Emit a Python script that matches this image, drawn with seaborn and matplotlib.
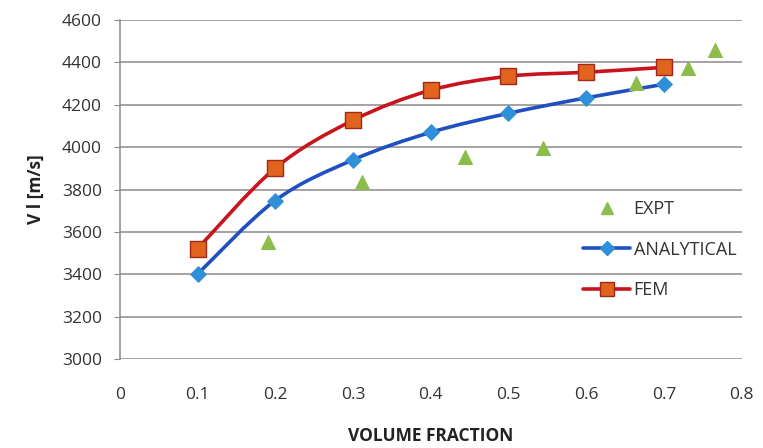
import numpy as np
import pandas as pd
import matplotlib
matplotlib.use("Agg")
import matplotlib.pyplot as plt
import seaborn as sns
from matplotlib.path import Path
from matplotlib.patches import PathPatch
from matplotlib.lines import Line2D

# data
vf = [0.1, 0.2, 0.3, 0.4, 0.5, 0.6, 0.7]
analytical = [3400, 3748, 3940, 4070, 4160, 4233, 4297]
fem = [3520, 3901, 4127, 4269, 4335, 4354, 4377]
expt_vf = [0.191, 0.312, 0.444, 0.544, 0.664, 0.731, 0.766]
expt = [3552, 3834, 3953, 3995, 4302, 4373, 4458]

yticks = [3000, 3200, 3400, 3600, 3800, 4000, 4200, 4400, 4600]
xticks = [0, 0.1, 0.2, 0.3, 0.4, 0.5, 0.6, 0.7, 0.8]

sns.set_style("white")
plt.rcParams['font.family'] = ['Open Sans', 'DejaVu Sans']

BLUE_LINE = '#1f4fc0'
BLUE_MARK = '#2f8fd8'
RED_LINE = '#c8141c'
RED_MARK = '#e0641e'
RED_EDGE = '#a0281a'
GREEN = '#8cbc4c'
GRID = '#8a8a8a'


def smooth_path(x, y):
    # excel style smoothed line: bezier through the data points
    x = np.asarray(x, float)
    y = np.asarray(y, float)
    px = np.concatenate([[x[0]], x, [x[-1]]])
    py = np.concatenate([[y[0]], y, [y[-1]]])
    verts = [(x[0], y[0])]
    codes = [Path.MOVETO]
    for i in range(1, len(px) - 2):
        c1 = (px[i] + (px[i + 1] - px[i - 1]) / 6, py[i] + (py[i + 1] - py[i - 1]) / 6)
        c2 = (px[i + 1] - (px[i + 2] - px[i]) / 6, py[i + 1] - (py[i + 2] - py[i]) / 6)
        verts += [c1, c2, (px[i + 1], py[i + 1])]
        codes += [Path.CURVE4] * 3
    return Path(verts, codes)


fig = plt.figure(figsize=(7.63, 4.48), dpi=100)
ax = fig.add_axes([0.157, 0.199, 0.815, 0.756])

ax.add_patch(PathPatch(smooth_path(vf, analytical), fill=False, edgecolor=BLUE_LINE, lw=2.6, zorder=3))
ax.add_patch(PathPatch(smooth_path(vf, fem), fill=False, edgecolor=RED_LINE, lw=2.6, zorder=3))

df_a = pd.DataFrame({'vf': vf, 'v': analytical})
df_f = pd.DataFrame({'vf': vf, 'v': fem})
df_e = pd.DataFrame({'vf': expt_vf, 'v': expt})

sns.scatterplot(data=df_e, x='vf', y='v', marker='^', s=100, color=GREEN, edgecolor=GREEN, ax=ax, zorder=4)
sns.scatterplot(data=df_a, x='vf', y='v', marker='D', s=65, color=BLUE_MARK, edgecolor=BLUE_MARK, ax=ax, zorder=5)
sns.scatterplot(data=df_f, x='vf', y='v', marker='s', s=130, color=RED_MARK, edgecolor=RED_EDGE, linewidth=1, ax=ax, zorder=5)

ax.set_xlim(0, 0.8)
ax.set_ylim(3000, 4600)
ax.set_yticks(yticks)
ax.set_xticks(xticks)
ax.set_xticklabels([f'{t:g}' for t in xticks])
ax.grid(axis='y', color=GRID, lw=1.1)
ax.set_axisbelow(True)
for s in ['top', 'right', 'bottom']:
    ax.spines[s].set_visible(False)
ax.spines['left'].set_color(GRID)
ax.spines['left'].set_linewidth(1.1)
ax.tick_params(axis='y', left=True, length=4, color=GRID, labelsize=12.5, pad=9, labelcolor='#333333')
ax.tick_params(axis='x', bottom=False, labelsize=12.5, pad=17, labelcolor='#333333')

ax.set_xlabel('VOLUME FRACTION', fontsize=12.5, fontweight='bold', color='#222222', labelpad=17)
ax.set_ylabel('V l [m/s]', fontsize=12.5, fontweight='bold', color='#222222', labelpad=12)

handles = [
    Line2D([], [], ls='none', marker='^', ms=8, color=GREEN),
    Line2D([], [], color=BLUE_LINE, lw=2.6, marker='D', ms=7, mfc=BLUE_MARK, mec=BLUE_MARK),
    Line2D([], [], color=RED_LINE, lw=2.6, marker='s', ms=10, mfc=RED_MARK, mec=RED_EDGE),
]
ax.legend(handles, ['EXPT', 'ANALYTICAL', 'FEM'], loc='center left', bbox_to_anchor=(0.719, 0.322),
          frameon=False, fontsize=13, handlelength=2.6, handletextpad=0.2, labelspacing=1.25,
          labelcolor='#333333')

fig.savefig('out.png', dpi=100)
